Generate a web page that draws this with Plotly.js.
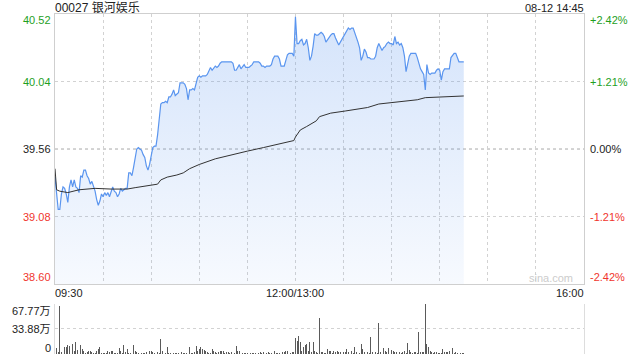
<!DOCTYPE html>
<html>
<head>
<meta charset="utf-8">
<script src="https://cdn.plot.ly/plotly-3.0.1.min.js"></script>
<style>html,body{margin:0;padding:0;background:#fff;}#chart{width:640px;height:360px;}</style>
</head>
<body>
<div id="chart"></div>
<script>
// ---------- DATA ----------
const stockTitle = "00027 银河娱乐";
const stampText = "08-12 14:45";
const prevClose = 39.56;

const morningStart = "09:30";   // one point per minute
const afternoonStart = "13:00"; // one point per minute

const pricesAM = [
39.36,39.24,39.13,39.13,39.24,39.29,39.28,39.24,39.18,39.29,
39.34,39.29,39.34,39.29,39.28,39.25,39.37,39.36,39.41,39.41,
39.37,39.35,39.31,39.33,39.30,39.26,39.20,39.16,39.19,39.24,
39.22,39.25,39.23,39.25,39.22,39.26,39.29,39.26,39.25,39.22,
39.24,39.28,39.26,39.27,39.28,39.28,39.39,39.39,39.37,39.43,
39.50,39.56,39.57,39.56,39.55,39.52,39.50,39.44,39.41,39.45,
39.51,39.57,39.58,39.58,39.66,39.79,39.88,39.89,39.89,39.90,
39.89,39.93,39.93,39.95,39.98,39.94,39.95,39.96,40.03,40.03,
40.03,40.02,39.99,39.91,39.98,39.98,39.99,39.98,40.03,40.07,
40.08,40.07,40.08,40.08,40.08,40.09,40.11,40.14,40.12,40.14,
40.15,40.14,40.15,40.17,40.18,40.18,40.18,40.18,40.18,40.18,
40.18,40.17,40.12,40.12,40.14,40.16,40.13,40.15,40.16,40.14,
40.14,40.14,40.15,40.16,40.18,40.18,40.18,40.18,40.17,40.15,
40.15,40.14,40.15,40.15,40.15,40.16,40.20,40.22,40.22,40.22,
40.20,40.15,40.15,40.15,40.19,40.23,40.24,40.24,40.24,40.22
];
const pricesPM = [
40.50,40.31,40.31,40.33,40.34,40.30,40.31,40.34,40.28,40.19,
40.22,40.29,40.38,40.37,40.37,40.38,40.39,40.38,40.36,40.32,
40.34,40.36,40.37,40.38,40.38,40.35,40.32,40.30,40.32,40.34,
40.37,40.39,40.41,40.42,40.41,40.42,40.42,40.39,40.35,40.32,
40.28,40.19,40.22,40.27,40.25,40.21,40.21,40.20,40.20,40.20,
40.22,40.28,40.31,40.28,40.26,40.28,40.29,40.31,40.32,40.31,
40.31,40.30,40.36,40.31,40.32,40.30,40.31,40.28,40.22,40.11,
40.17,40.22,40.24,40.24,40.24,40.24,40.21,40.16,40.13,40.11,
40.09,39.98,40.16,40.10,40.09,40.10,40.10,40.10,40.12,40.13,
40.12,40.05,40.11,40.13,40.13,40.13,40.13,40.21,40.23,40.24,
40.24,40.21,40.18,40.18,40.18,40.18
];

// average price line
const avgTimes = ["09:30","09:31","09:33","09:38","09:45","09:55","10:05","10:15","10:20","10:25",
"10:30","10:34","10:36","10:40","10:46","10:50","10:54","11:00","11:10","11:20",
"11:30","11:40","11:47","11:55","11:59","13:00","13:03","13:07","13:10","13:13",
"13:15","13:18","13:22","13:31","13:45","13:52","14:00","14:16","14:21","14:31","14:45"];
const avgPrices = [39.42,39.27,39.26,39.25,39.27,39.28,39.275,39.275,39.285,39.295,
39.30,39.31,39.34,39.36,39.375,39.39,39.42,39.45,39.49,39.52,
39.545,39.57,39.59,39.61,39.62,39.645,39.695,39.72,39.74,39.76,
39.79,39.80,39.815,39.83,39.855,39.88,39.89,39.91,39.925,39.93,39.937];

// volume per minute, in 万 shares
const volumesAM = [
21,7.7,3,64.6,3,10,9.9,9,12.2,11.3,
9,13.5,4,15.8,5.4,5.4,12.2,6.8,4.5,2,
2.5,4.5,3.6,3.2,1.4,2,4.5,6.8,9,1.5,
1.4,2,1.5,3.6,3.2,4.5,3.6,1.4,1.5,1.4,
7.7,4.5,1.8,12.2,2.3,6.8,2,1.4,10.4,12.2,
4.5,2.3,1.8,1.4,1.4,1.4,1.4,2.3,2.5,3.6,
3.6,2.3,1.4,1.8,3.2,2,20.3,4.5,5.9,2,
9,1.4,2,7.7,1.4,1.8,1.4,2,12.2,3.2,
1.4,1.4,1.8,9,9,1.4,2,2.3,10.4,4.5,
6.8,9,6.8,5.9,3.6,3.2,1.4,2,6.8,4.5,
2.3,1.4,3.2,3.6,3.6,3.6,1.8,2.3,2.3,1.4,
2.3,1.4,1.4,10.4,3.6,4.5,3.2,1.8,1,1.4,
1.4,1,1.4,1,1.4,1.4,1,1.8,2.3,1.4,
2.3,1.4,1.8,2.3,1.4,1.8,10.4,4.5,1.4,1.4,
1.4,3.2,2.3,2.3,3.6,4.5,6.8,1.4,2.3,2.3
];
const volumesPM = [
21.2,18,23.9,15.8,4.5,9,12.2,13.5,3.6,15.8,
3.2,16.7,4.5,2.3,1.4,48.3,3.2,2.3,1.4,1.8,
6.8,4.5,4.5,1.4,4.5,2.3,4.5,2.3,3.2,1.4,
2.3,3.2,6.8,3.2,2.3,4.5,1.4,9,2.3,2.3,
1.8,13.5,6.8,3.2,3.6,2.3,1.8,22.6,2.3,2.3,
3.2,1.4,42,2.3,7.7,7.7,4.5,3.2,7.7,4.5,
5.4,4.5,2.3,3.2,4.5,2.3,1.4,3.2,4.5,1.4,
14.9,5.9,2.3,1.4,2.3,3.2,1.4,30.3,3.2,2.3,
2.3,67.77,13.5,9,4.5,2.3,1.4,3.2,2.3,1.4,
1.4,1.8,6.8,2.3,3.2,3.2,4.5,2.3,7.7,1.4,
2.3,1,1.4,1.4,1,1.4
];

const yTickVals = [38.60, 39.08, 39.56, 40.04, 40.52];
const yTickText = ["38.60", "39.08", "39.56", "40.04", "40.52"];
const pctTickText = ["-2.42%", "-1.21%", "0.00%", "+1.21%", "+2.42%"];
const volTickVals = [0, 33.88, 67.77];
const volTickText = ["0", "33.88万", "67.77万"];
const xTickTimes = ["09:30", "13:00", "16:00"];
const xTickText = ["09:30", "12:00/13:00", "16:00"];
const watermark = "sina.com";

// ---------- helpers ----------
function toAxis(t) {
  const p = t.split(":").map(Number);
  const mins = p[0] * 60 + p[1];
  return mins >= 780 ? 150 + (mins - 780) : mins - 570;
}
function sessionX(start, n) {
  const s = toAxis(start);
  const out = [];
  for (let i = 0; i < n; i++) out.push(s + i);
  return out;
}
const xs = sessionX(morningStart, pricesAM.length).concat(sessionX(afternoonStart, pricesPM.length));
const prices = pricesAM.concat(pricesPM);
const vols = volumesAM.concat(volumesPM);
const avgX = avgTimes.map(toAxis);
const xMax = toAxis("16:00");

const GREEN = "#1f9f1f", RED = "#f0352d", BLACK = "#222";
const FONT = "Liberation Sans, Arial, Noto Sans CJK SC, sans-serif";
function colorFor(v) { return v > prevClose + 1e-9 ? GREEN : (v < prevClose - 1e-9 ? RED : BLACK); }

const traces = [
  {
    x: xs, y: prices, xaxis: "x", yaxis: "y", type: "scatter", mode: "lines",
    line: { color: "#5a95ef", width: 1.2 },
    fill: "tozeroy",
    fillgradient: { type: "vertical", start: yTickVals[0], stop: yTickVals[yTickVals.length - 1],
      colorscale: [[0, "rgba(90,149,239,0.05)"], [1, "rgba(90,149,239,0.26)"]] },
    hoverinfo: "skip"
  },
  {
    x: avgX, y: avgPrices, xaxis: "x", yaxis: "y", type: "scatter", mode: "lines",
    line: { color: "#333", width: 1 }, hoverinfo: "skip"
  },
  {
    x: xs, y: vols, xaxis: "x2", yaxis: "y2", type: "bar",
    marker: { color: "#5a5a5a", line: { width: 0 } }, width: 0.55, hoverinfo: "skip"
  }
];

const annotations = [];
yTickVals.forEach((v, i) => {
  const last = yTickVals.length - 1;
  const ys = i === last ? -6 : (i === 0 ? 7 : 0);
  annotations.push({ xref: "paper", yref: "y", x: 0, y: v, xanchor: "right", yanchor: "middle",
    xshift: -2, yshift: ys, text: yTickText[i], showarrow: false,
    font: { family: FONT, size: 11, color: colorFor(v) } });
  annotations.push({ xref: "paper", yref: "y", x: 1, y: v, xanchor: "left", yanchor: "middle",
    xshift: 4, yshift: ys, text: pctTickText[i], showarrow: false,
    font: { family: FONT, size: 11, color: colorFor(v) } });
});
volTickVals.forEach((v, i) => {
  const ys = i === volTickVals.length - 1 ? -7 : (i === 0 ? 6 : 0);
  annotations.push({ xref: "paper", yref: "y2", x: 0, y: v, xanchor: "right", yanchor: "middle",
    xshift: -2, yshift: ys, text: volTickText[i], showarrow: false,
    font: { family: FONT, size: 11, color: "#222" } });
});
xTickTimes.forEach((t, i) => {
  const anchor = i === 0 ? "left" : (i === xTickTimes.length - 1 ? "right" : "center");
  annotations.push({ xref: "x", yref: "paper", x: toAxis(t), y: 0.1794, xanchor: anchor, yanchor: "middle",
    xshift: i === 0 ? -2 : (anchor === "right" ? 2 : 0),
    text: xTickText[i], showarrow: false, font: { family: FONT, size: 11, color: "#222" } });
});
annotations.push({ xref: "paper", yref: "paper", x: 0, y: 1.019, xanchor: "left", yanchor: "middle",
  xshift: -2, text: stockTitle, showarrow: false, font: { family: FONT, size: 12, color: "#222" } });
annotations.push({ xref: "paper", yref: "paper", x: 1, y: 1.019, xanchor: "right", yanchor: "middle",
  xshift: 2, text: stampText, showarrow: false, font: { family: FONT, size: 11, color: "#222" } });
annotations.push({ xref: "paper", yref: "y", x: 1, y: yTickVals[0], xanchor: "right", yanchor: "middle",
  xshift: -9, yshift: 6, text: watermark, showarrow: false, font: { family: FONT, size: 11, color: "#cccccc" } });

const GRID = "#d2d2d2", BORDER = "#cfcfcf";
const layout = {
  width: 640, height: 360,
  margin: { l: 55, r: 56, t: 14, b: 6, pad: 0 },
  paper_bgcolor: "#fff", plot_bgcolor: "#fff",
  showlegend: false,
  xaxis: { domain: [0, 1], range: [0, xMax], anchor: "y", tick0: 0, dtick: 30,
    showticklabels: false, ticks: "", showgrid: true, gridcolor: GRID, griddash: "dot", gridwidth: 1,
    showline: true, mirror: true, linecolor: BORDER, linewidth: 1, zeroline: false, fixedrange: true },
  yaxis: { domain: [0.2059, 1], range: [yTickVals[0], yTickVals[yTickVals.length - 1]], anchor: "x",
    tickmode: "array", tickvals: yTickVals, showticklabels: false, ticks: "",
    showgrid: true, gridcolor: GRID, griddash: "dot", gridwidth: 1,
    showline: true, mirror: true, linecolor: BORDER, linewidth: 1, zeroline: false, fixedrange: true },
  xaxis2: { domain: [0, 1], range: [0, xMax], anchor: "y2", showticklabels: false, ticks: "",
    showgrid: false, showline: false, zeroline: false, fixedrange: true },
  yaxis2: { domain: [0, 0.1471], range: [volTickVals[0], volTickVals[volTickVals.length - 1]], anchor: "x2",
    tickmode: "array", tickvals: volTickVals, showticklabels: false, ticks: "",
    showgrid: true, gridcolor: GRID, griddash: "dot", gridwidth: 1,
    showline: true, mirror: true, linecolor: "#dddddd", linewidth: 1, zeroline: false, fixedrange: true },
  bargap: 0,
  annotations: annotations,
  shapes: [
    { type: "line", xref: "paper", yref: "y", x0: 0, x1: 1, y0: prevClose, y1: prevClose,
      line: { color: "#aaaaaa", width: 1, dash: "dot" }, layer: "below" }
  ]
};

Plotly.newPlot("chart", traces, layout, { staticPlot: true, displayModeBar: false });
</script>
</body>
</html>
